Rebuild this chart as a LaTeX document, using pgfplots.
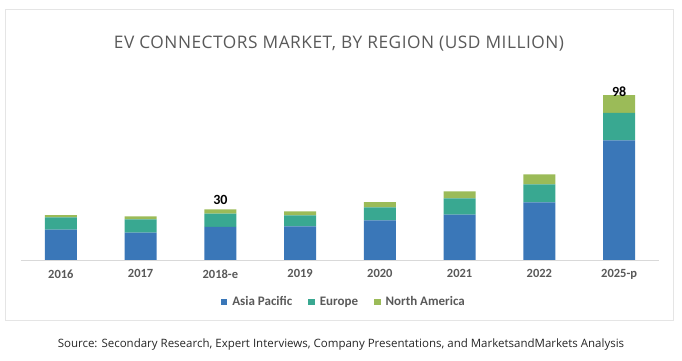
\documentclass[border=0pt]{standalone}
\usepackage{pgfplots}
\usepackage{pgfplotstable}
\pgfplotsset{compat=1.18}
\usepackage{fontspec}
\setmainfont{Carlito}
\newfontfamily\opensans{Open Sans}
\newfontfamily\opensanstitle[LetterSpace=3]{Open Sans}
\definecolor{apblue}{RGB}{58,119,184}
\definecolor{euteal}{RGB}{57,168,145}
\definecolor{nagreen}{RGB}{155,187,88}
\definecolor{txtgray}{RGB}{89,89,89}
\pgfplotstableread{
x ap eu na lab
0 18.1 7.2 1.4 {}
1 16.3 7.8 1.8 {}
2 19.6 8.0 2.4 30
3 19.9 6.6 2.4 {}
4 23.5 7.8 3.0 {}
5 27.0 9.6 4.2 {}
6 34.2 10.7 6.0 {}
7 71.0 16.4 10.6 98
}\datatable
\begin{document}
\begin{tikzpicture}[x=1pt,y=1pt]
\path[use as bounding box] (0,0) rectangle (682,361);
\draw[line width=0.9pt, color=black!10] (5.5,40.5) rectangle (673,351.5);
\node[font=\opensanstitle\fontsize{17.3}{20}\selectfont, text=txtgray] at (339,317) {EV CONNECTORS MARKET, BY REGION (USD MILLION)};
\begin{axis}[
  at={(21pt,101pt)}, anchor=south west,
  scale only axis, width=638pt, height=185.2pt,
  xmin=-0.5, xmax=7.5, ymin=0, ymax=110,
  ybar stacked, bar width=32pt,
  axis x line*=bottom, axis y line=none,
  x axis line style={draw=black!15, line width=0.8pt},
  xtick={0,...,7},
  xticklabels={2016,2017,2018-e,2019,2020,2021,2022,2025-p},
  major tick length=0pt,
  xticklabel style={font=\bfseries\fontsize{12.5}{14}\selectfont, text=txtgray, yshift=-6pt},
  legend style={at={(0.506,-0.227)}, anchor=center, draw=none, fill=none,
    legend columns=3, font=\bfseries\fontsize{13}{15}\selectfont, text=txtgray,
    /tikz/every odd column/.append style={column sep=3pt},
    /tikz/every even column/.append style={column sep=14pt}},
  legend image code/.code={\fill[#1] (0pt,-3pt) rectangle (6.5pt,3.5pt);},
  clip=false,
]
\addplot[fill=apblue, draw=none] table[x=x,y=ap] {\datatable};
\addlegendentry{Asia Pacific}
\addplot[fill=euteal, draw=none] table[x=x,y=eu] {\datatable};
\addlegendentry{Europe}
\addplot[fill=nagreen, draw=none,
  point meta=explicit symbolic,
  nodes near coords={\pgfplotspointmeta},
  nodes near coords style={font=\bfseries\fontsize{14}{15}\selectfont, text=black, anchor=south, inner sep=0pt, yshift=7pt}
  ] table[x=x,y=na,meta=lab] {\datatable};
\addlegendentry{North America}
\end{axis}
\node[font=\opensans\fontsize{11.5}{14}\selectfont, text=black!85] at (341,16) {Source: Secondary Research, Expert Interviews, Company Presentations, and MarketsandMarkets Analysis};
\end{tikzpicture}
\end{document}
